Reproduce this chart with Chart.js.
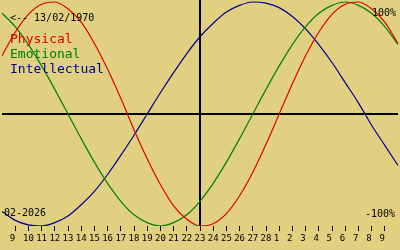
<!DOCTYPE html>
<html>
<head>
<meta charset="utf-8">
<script src="https://cdn.jsdelivr.net/npm/chart.js@4.4.1/dist/chart.umd.min.js"></script>
<style>
    html, body { margin: 0; padding: 0; background: #e0d080; }
    canvas { display: block; }
</style>
</head>
<body>
<canvas id="bio" width="400" height="250"></canvas>
<script>
// ===== DATA (one point per day, 8 Feb 2026 -> 10 Mar 2026) =====
const dayNumbers = [8, 9, 10, 11, 12, 13, 14, 15, 16, 17, 18, 19, 20, 21, 22, 23, 24, 25, 26, 27, 28,
    1, 2, 3, 4, 5, 6, 7, 8, 9, 10];
const physical = [0.52, 0.73, 0.89, 0.98, 1.00, 0.94, 0.82, 0.63, 0.40, 0.14, -0.14, -0.40, -0.63, -0.82, -0.94,
    -1.00, -0.98, -0.89, -0.73, -0.52, -0.27, 0.00, 0.27, 0.52, 0.73, 0.89, 0.98, 1.00, 0.94, 0.82, 0.63];
const emotional = [0.90, 0.78, 0.62, 0.43, 0.22, 0.00, -0.22, -0.43, -0.62, -0.78, -0.90, -0.97, -1.00, -0.97, -0.90,
    -0.78, -0.62, -0.43, -0.22, 0.00, 0.22, 0.43, 0.62, 0.78, 0.90, 0.97, 1.00, 0.97, 0.90, 0.78, 0.62];
const intellectual = [-0.87, -0.95, -0.99, -1.00, -0.97, -0.91, -0.81, -0.69, -0.54, -0.37, -0.19, 0.00, 0.19, 0.37, 0.54,
    0.69, 0.81, 0.91, 0.97, 1.00, 0.99, 0.95, 0.87, 0.76, 0.62, 0.46, 0.28, 0.10, -0.10, -0.28, -0.46];
const todayIndex = 15;   // 23 Feb
const birthLabel = '<-- 13/02/1970';
const monthLabel = '02-2026';

const MONO = '"DejaVu Sans Mono", "Liberation Mono", monospace';

// ===== OVERLAY: crosshair + texts =====
const overlay = {
    id: 'overlay',
    beforeDatasetsDraw(chart) {
        const { ctx, chartArea, scales } = chart;
        const x0 = scales.x.getPixelForValue(todayIndex);
        const y0 = scales.y.getPixelForValue(0);
        ctx.save();
        ctx.strokeStyle = '#000';
        ctx.lineWidth = 2;
        ctx.beginPath();
        ctx.moveTo(chartArea.left, y0);
        ctx.lineTo(chartArea.right, y0);
        ctx.moveTo(x0, chartArea.top);
        ctx.lineTo(x0, chartArea.bottom);
        ctx.stroke();
        ctx.restore();
    },
    afterDatasetsDraw(chart) {
        const { ctx } = chart;
        ctx.save();
        ctx.textBaseline = 'alphabetic';
        ctx.fillStyle = '#000';
        ctx.font = '10px ' + MONO;
        ctx.textAlign = 'left';
        ctx.fillText(birthLabel, 10, 21);
        ctx.fillText(monthLabel, 4, 216);
        ctx.textAlign = 'right';
        ctx.fillText('100%', 396, 16);
        ctx.fillText('-100%', 395, 217);

        // legend
        ctx.textAlign = 'left';
        ctx.font = '13px ' + MONO;
        chart.data.datasets.forEach((ds, i) => {
            ctx.fillStyle = ds.borderColor;
            ctx.fillText(ds.label, 10, 43 + i * 15);
        });
        ctx.restore();
    }
};

new Chart(document.getElementById('bio'), {
    type: 'line',
    data: {
        labels: dayNumbers,
        datasets: [{
            label: 'Physical',
            data: physical,
            borderColor: '#e00000'
        }, {
            label: 'Emotional',
            data: emotional,
            borderColor: '#008000'
        }, {
            label: 'Intellectual',
            data: intellectual,
            borderColor: '#000098'
        }]
    },
    options: {
        responsive: false,
        animation: false,
        devicePixelRatio: 1,
        layout: { padding: 0 },
        elements: {
            point: { radius: 0 },
            line: { borderWidth: 1.2, cubicInterpolationMode: 'monotone' }
        },
        plugins: {
            legend: { display: false },
            tooltip: { enabled: false }
        },
        scales: {
            x: {
                type: 'category',
                offset: false,
                afterFit(scale) { scale.height = 24; },
                border: { display: false },
                grid: {
                    drawOnChartArea: false,
                    drawTicks: true,
                    tickLength: 5,
                    tickWidth: 1,
                    tickColor: (c) => (c.index === 0 || c.index === dayNumbers.length - 1) ? 'rgba(0,0,0,0)' : '#000'
                },
                ticks: {
                    autoSkip: false,
                    maxRotation: 0,
                    padding: 2,
                    color: '#000',
                    font: { family: MONO, size: 9 },
                    callback: (v, i) => (i === 0 || i === dayNumbers.length - 1) ? '' : String(dayNumbers[i]).padEnd(2, ' ')
                }
            },
            y: {
                display: false,
                min: -1,
                max: 1.018
            }
        }
    },
    plugins: [overlay]
});
</script>
</body>
</html>
